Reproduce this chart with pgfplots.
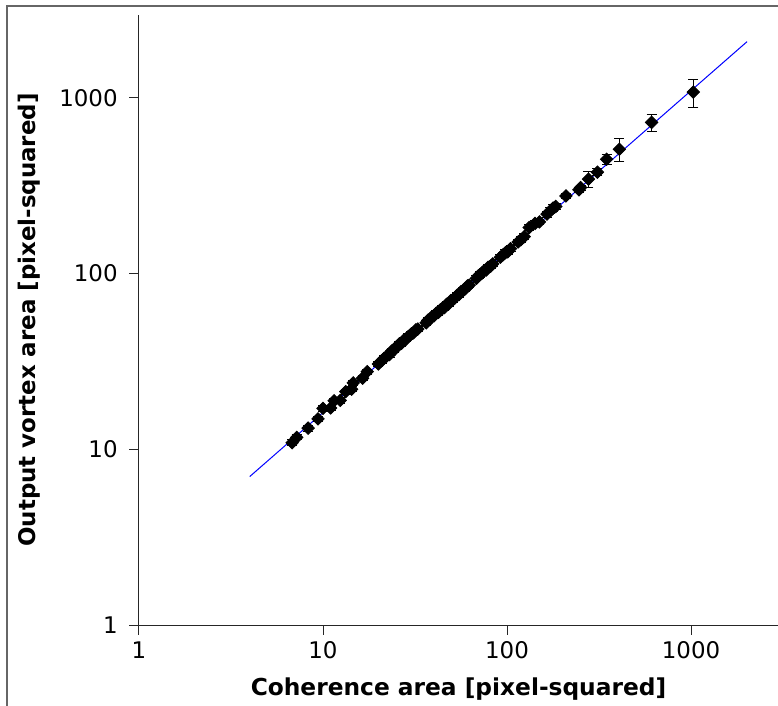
\documentclass[border=0pt]{standalone}
\usepackage{fontspec}
\setmainfont{DejaVu Sans}
\usepackage{pgfplots}
\usepackage{pgfplotstable}
\pgfplotsset{compat=1.18}

\pgfplotstableread{
x y e
6.8 10.9 0.4
7.2 11.7 0.4
8.3 13.2 0.5
9.4 14.9 0.5
10.0 17.1 0.6
11.0 17.2 0.6
11.5 18.9 0.6
12.4 19.0 0.7
13.3 21.3 0.7
14.3 22.0 0.8
14.6 23.9 0.8
16.4 25.4 0.9
17.4 27.7 0.9
20.0 30.6 1.0
20.8 31.9 1.1
21.5 33.0 1.1
22.3 34.1 1.2
23.0 34.6 1.2
23.6 36.3 1.2
24.4 36.9 1.3
25.2 38.4 1.3
25.9 39.7 1.4
26.7 40.1 1.4
27.5 41.8 1.4
28.3 42.4 1.5
29.1 43.9 1.5
30.0 45.1 1.5
31.0 46.0 1.6
32.0 47.9 1.6
32.8 48.4 1.6
36.4 52.5 1.8
37.3 54.4 1.8
38.2 55.1 1.9
39.0 56.8 1.9
40.1 57.5 2.0
41.3 59.6 2.0
42.4 60.2 2.1
43.5 62.3 2.1
44.6 63.5 2.2
45.7 64.1 2.2
47.0 66.9 2.3
48.3 67.5 2.3
49.5 70.2 2.4
50.8 71.0 2.4
52.0 72.6 2.5
53.6 75.3 2.6
55.0 76.1 2.6
56.2 78.9 2.7
57.9 80.4 2.8
59.4 82.0 2.8
61.0 85.1 2.9
62.3 86.0 3.0
68.2 94.0 3.2
70.0 97.5 3.3
71.5 99.0 3.4
73.1 100.8 3.5
75.0 103.6 3.6
77.2 104.9 3.7
79.0 108.7 3.8
81.4 110.2 3.9
83.6 113.5 4.0
92.0 124.0 4.4
95.3 128.2 4.5
98.0 131.6 4.7
101.0 133.0 4.8
104.5 138.7 5.0
115.0 151.5 5.5
119.0 156.0 5.7
124.0 162.2 6.0
132.0 183.0 6.5
142.0 193.0 7.0
150.0 197.0 7.0
165.0 218.0 9
172.0 228.0 9
178.0 236.0 10
184.0 241.0 10
209.0 277.0 8
246.0 300.0 10
251.0 309.0 10
277.0 345.0 35
310.0 378.0 18
348.0 448.0 28
408.0 510.0 75
611.0 726.0 83
1029.0 1080.0 200
}\areas

\begin{document}
\begin{tikzpicture}
\useasboundingbox (-69.5bp,-40.5bp) rectangle (319.5bp,312.5bp);
% outer frame (only top and left visible)
\draw[line width=1bp, black!60] (-66bp,-45bp) -- (-66bp,309.5bp) -- (325bp,309.5bp);
\begin{axis}[
    at={(0,0)}, anchor=south west,
    scale only axis,
    width=319.5bp, height=305bp,
    xmode=log, ymode=log,
    xmin=1, xmax=2970, ymin=1, ymax=2965,
    axis x line=bottom, axis y line=left,
    axis line style={-, line width=0.5bp, black!85},
    xminorticks=false, yminorticks=false,
    xtick={1,10,100,1000}, xticklabels={1,10,100,1000},
    ytick={1,10,100,1000}, yticklabels={1,10,100,1000},
    tick align=outside,
    major tick length=5bp,
    tick style={line width=0.5bp, black!85},
    tick label style={font=\fontsize{11.5}{13}\selectfont, black},
    xticklabel style={inner sep=0pt, yshift=-3bp},
    yticklabel style={inner sep=0pt, xshift=-5.5bp},
    xlabel={Coherence area [pixel-squared]},
    ylabel={Output vortex area [pixel-squared]},
    every axis x label/.style={at={(axis description cs:0.5,-0.1148)}, anchor=base,
        font=\fontsize{11.7}{14}\selectfont\bfseries},
    every axis y label/.style={at={(axis description cs:-0.1615,0.5)}, anchor=base, rotate=90,
        font=\fontsize{11.5}{14}\selectfont\bfseries},
    clip=false,
]
\addplot[blue, line width=0.5bp] coordinates {(4,7.0) (2015,2090)};
\addplot[only marks, black, mark=square*, mark size=2.2bp,
    mark options={rotate=45},
    error bars/.cd, y dir=both, y explicit,
    error bar style={line width=0.5bp, black},
    error mark options={rotate=90, mark size=2.5bp, line width=0.5bp, black}]
    table[x=x, y=y, y error=e] {\areas};
\end{axis}
\end{tikzpicture}
\end{document}
